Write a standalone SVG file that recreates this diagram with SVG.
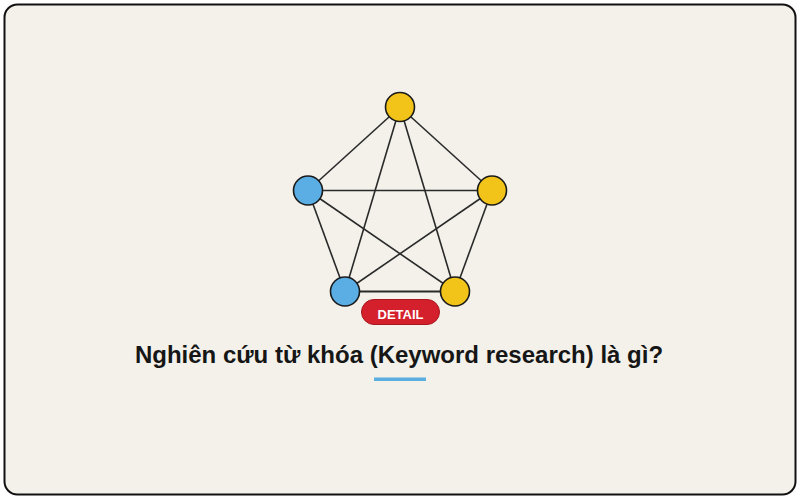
<svg xmlns="http://www.w3.org/2000/svg" width="800" height="500" viewBox="0 0 800 500">
<style>
.edge{stroke:#2a2a2a;stroke-width:1.6;fill:none}
.node{stroke:#1a1a1a;stroke-width:1.6}
.y{fill:#f2c318}
.b{fill:#5baee4}
.title{font-family:"Liberation Sans",Arial,sans-serif;font-weight:bold;font-size:24px;fill:#161616}
.btn{font-family:"Liberation Sans",Arial,sans-serif;font-weight:bold;font-size:13px;fill:#ffffff}
</style>
<rect x="0" y="0" width="800" height="500" fill="#ffffff"/>
<rect x="4.5" y="4.5" width="791" height="490" rx="13" fill="#f3f1ea" stroke="#111" stroke-width="2"/>
<g id="connectors">
<line class="edge" x1="400" y1="107" x2="308" y2="190.5"/>
<line class="edge" x1="400" y1="107" x2="492" y2="190.5"/>
<line class="edge" x1="400" y1="107" x2="345" y2="291.5"/>
<line class="edge" x1="400" y1="107" x2="455" y2="291.5"/>
<line class="edge" x1="308" y1="190.5" x2="492" y2="190.5"/>
<line class="edge" x1="308" y1="190.5" x2="345" y2="291.5"/>
<line class="edge" x1="308" y1="190.5" x2="455" y2="291.5"/>
<line class="edge" x1="492" y1="190.5" x2="345" y2="291.5"/>
<line class="edge" x1="492" y1="190.5" x2="455" y2="291.5"/>
<line class="edge" x1="345" y1="291.5" x2="455" y2="291.5" style="stroke-width:2"/>
</g>
<g id="node-top"><circle class="node y" cx="400" cy="107" r="14.5"/></g>
<g id="node-left"><circle class="node b" cx="308" cy="190.5" r="14.5"/></g>
<g id="node-right"><circle class="node y" cx="492" cy="190.5" r="14.5"/></g>
<g id="node-bottom-left"><circle class="node b" cx="345" cy="291.5" r="14.5"/></g>
<g id="node-bottom-right"><circle class="node y" cx="455" cy="291.5" r="14.5"/></g>
<g id="detail-button">
<rect x="361.5" y="299.5" width="78" height="25" rx="12.5" fill="#d41f2c" stroke="#a8161f" stroke-width="1"/>
<text class="btn" x="400.5" y="319" text-anchor="middle">DETAIL</text>
</g>
<text class="title" x="399" y="362.5" text-anchor="middle">Nghiên cứu từ khóa (Keyword research) là gì?</text>
<rect x="374" y="377.5" width="52" height="3.5" fill="#5aaee0"/>
</svg>
